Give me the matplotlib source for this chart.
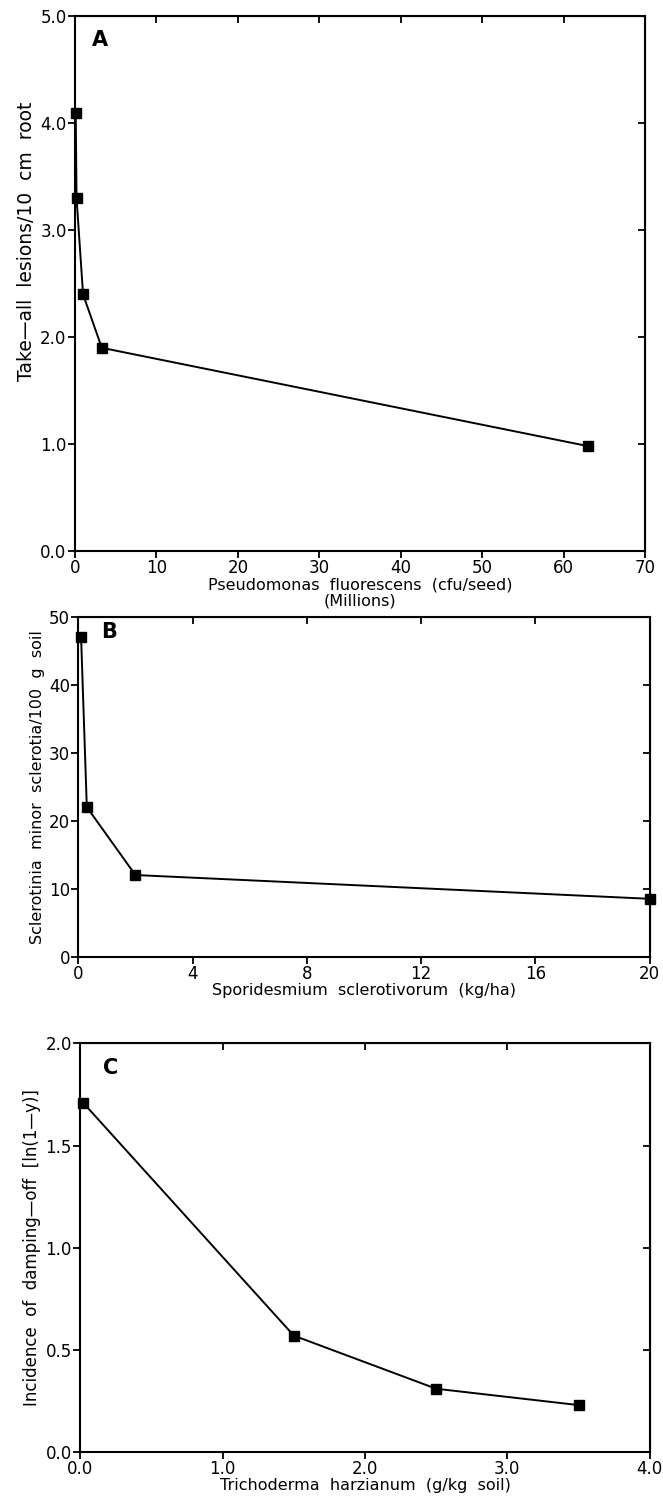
import matplotlib
matplotlib.use('Agg')
import matplotlib.pyplot as plt

# panel A
a_x = [0.1, 0.2, 1.0, 3.3, 63.0]
a_y = [4.1, 3.3, 2.4, 1.9, 0.98]
a_xticks = [0, 10, 20, 30, 40, 50, 60, 70]
a_yticks = [0.0, 1.0, 2.0, 3.0, 4.0, 5.0]

# panel B
b_x = [0.1, 0.3, 2.0, 20.0]
b_y = [47.0, 22.0, 12.0, 8.5]
b_xticks = [0, 4, 8, 12, 16, 20]
b_yticks = [0, 10, 20, 30, 40, 50]

# panel C
c_x = [0.02, 1.5, 2.5, 3.5]
c_y = [1.71, 0.57, 0.31, 0.23]
c_xticks = [0.0, 1.0, 2.0, 3.0, 4.0]
c_yticks = [0.0, 0.5, 1.0, 1.5, 2.0]

plt.rcParams['font.family'] = ['DejaVu Sans']

fig = plt.figure(figsize=(6.63, 14.97), dpi=100)


def panel(rect, x, y, xt, yt, xfmt, yfmt, xlabel, ylabel, ysize, ypos, letter, lpos):
    ax = fig.add_axes(rect)
    ax.plot(x, y, color='black', lw=1.4, marker='s', ms=6.5, clip_on=False, zorder=5)
    ax.set_xlim(xt[0], xt[-1])
    ax.set_ylim(yt[0], yt[-1])
    ax.set_xticks(xt, [xfmt.format(v) for v in xt])
    ax.set_yticks(yt, [yfmt.format(v) for v in yt])
    ax.tick_params(direction='out', length=5, width=1.3, labelsize=12, pad=1)
    for s in ax.spines.values():
        s.set_linewidth(1.5)
    top = ax.secondary_xaxis('top')
    top.set_xticks(xt[1:-1], [])
    top.tick_params(direction='in', length=5, width=1.3)
    right = ax.secondary_yaxis('right')
    right.set_yticks(yt[1:-1], [])
    right.tick_params(direction='in', length=5, width=1.3)
    ax.set_xlabel(xlabel, fontsize=11.5, labelpad=0, linespacing=1.1)
    ax.set_ylabel(ylabel, fontsize=ysize, labelpad=3)
    ax.yaxis.label.set_y(ypos)
    ax.text(lpos[0], lpos[1], letter, transform=ax.transAxes, fontsize=15,
            fontweight='bold', ha='left', va='top')
    return ax


panel([0.113, 0.632, 0.860, 0.357], a_x, a_y, a_xticks, a_yticks, '{:d}', '{:.1f}',
      'Pseudomonas  fluorescens  (cfu/seed)\n(Millions)',
      'Take\u2014all  lesions/10  cm  root', 13.5, 0.58,
      'A', (0.03, 0.975))
panel([0.118, 0.361, 0.862, 0.227], b_x, b_y, b_xticks, b_yticks, '{:d}', '{:d}',
      'Sporidesmium  sclerotivorum  (kg/ha)',
      'Sclerotinia  minor  sclerotia/100  g  soil', 11.5, 0.5,
      'B', (0.04, 0.985))
panel([0.121, 0.030, 0.859, 0.273], c_x, c_y, c_xticks, c_yticks, '{:.1f}', '{:.1f}',
      'Trichoderma  harzianum  (g/kg  soil)',
      'Incidence  of  damping\u2014off  [ln(1\u2014y)]', 12, 0.5,
      'C', (0.04, 0.965))

fig.savefig('out.png', dpi=100)
